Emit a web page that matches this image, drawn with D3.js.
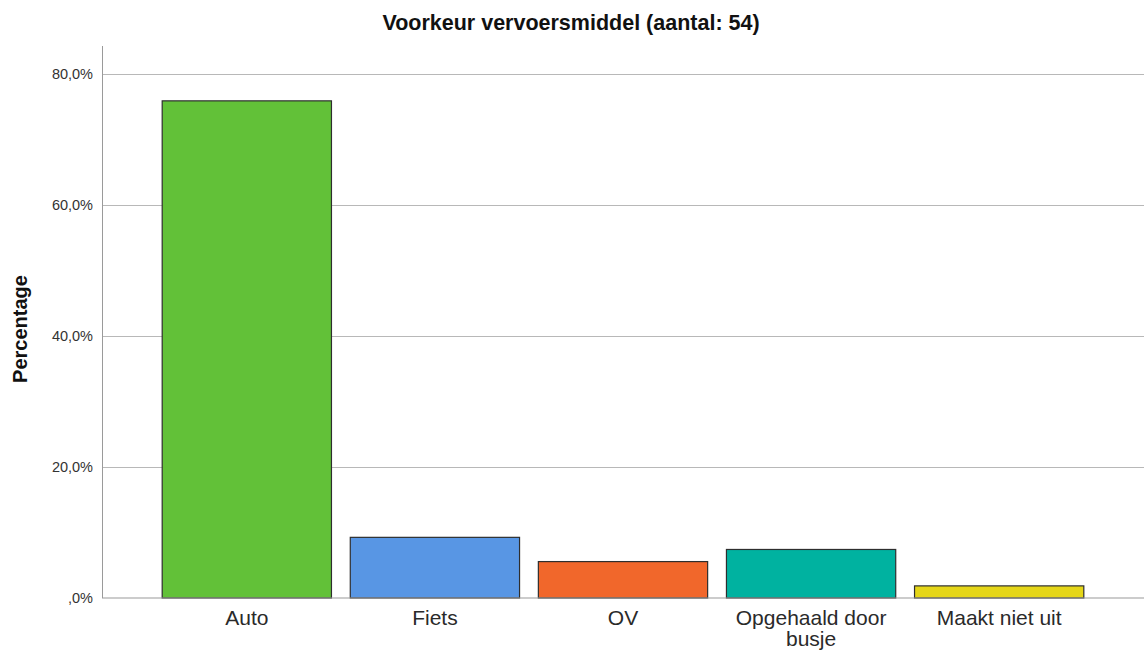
<!DOCTYPE html>
<html><head><meta charset="utf-8">
<script src="https://cdn.jsdelivr.net/npm/d3@7"></script>
<style>body{margin:0;background:#fff}svg{display:block}</style>
</head><body>
<svg id="c" width="1144" height="653"></svg>
<script>
const categories = ["Auto", "Fiets", "OV", "Opgehaald door busje", "Maakt niet uit"];
const percentages = [75.9, 9.26, 5.56, 7.41, 1.85];
const colors = ["#62c138", "#5896e4", "#f1672b", "#00b2a0", "#e5d618"];
const yTicks = [0, 20, 40, 60, 80];
const tickLabels = [",0%", "20,0%", "40,0%", "60,0%", "80,0%"];

(function () {
const svg = d3.select("#c");
const font = "Liberation Sans, Arial, sans-serif";
const mLeft = 102, mRight = 1144, mTop = 46, mBottom = 598;
const x = d3.scaleBand().domain(categories).range([mLeft, mRight]).paddingInner(0.1).paddingOuter(0.32);
const y = d3.scaleLinear().domain([0, 80]).range([mBottom, 74]);

// gridlines
svg.append("g").selectAll("line").data(yTicks.filter(d => d > 0)).join("line")
  .attr("x1", mLeft).attr("x2", mRight).attr("y1", d => y(d) + 0.5).attr("y2", d => y(d) + 0.5)
  .attr("stroke", "#b8b8b8").attr("stroke-width", 1);

// y axis
const yAxis = d3.axisLeft(y).tickValues(yTicks).tickSize(0).tickPadding(9)
  .tickFormat((d, i) => tickLabels[i]);
const gy = svg.append("g").attr("transform", `translate(${mLeft},0)`).call(yAxis);
gy.select(".domain").remove();
gy.selectAll("text").attr("font-family", font).attr("font-size", 14.5).attr("fill", "#333");
svg.append("line").attr("x1", mLeft + 0.5).attr("x2", mLeft + 0.5).attr("y1", mTop).attr("y2", mBottom)
  .attr("stroke", "#9a9a9a");

// bars
svg.append("g").selectAll("rect").data(categories).join("rect")
  .attr("x", d => x(d)).attr("width", x.bandwidth())
  .attr("y", (d, i) => y(percentages[i])).attr("height", (d, i) => mBottom - y(percentages[i]))
  .attr("fill", (d, i) => colors[i]).attr("stroke", "#2e2e2e").attr("stroke-width", 1.2);

// baseline
svg.append("line").attr("x1", mLeft).attr("x2", mRight).attr("y1", mBottom).attr("y2", mBottom)
  .attr("stroke", "#9a9a9a").attr("stroke-width", 1.2);

// x axis labels
const xAxis = d3.axisBottom(x).tickSize(0).tickPadding(12);
const gx = svg.append("g").attr("transform", `translate(0,${mBottom})`).call(xAxis);
gx.select(".domain").remove();
gx.selectAll("text").attr("font-family", font).attr("font-size", 21).attr("fill", "#2a2a2a")
  .each(function(d) {
    if (d === "Opgehaald door busje") {
      const t = d3.select(this); t.text(null);
      t.append("tspan").attr("x", 0).attr("dy", "0.71em").text("Opgehaald door");
      t.append("tspan").attr("x", 0).attr("dy", "1.0em").text("busje");
      t.attr("dy", null);
    }
  });

// title
svg.append("text").attr("x", 571).attr("y", 30).attr("text-anchor", "middle")
  .attr("font-family", font).attr("font-weight", "bold").attr("font-size", 21.5)
  .attr("fill", "#111").text("Voorkeur vervoersmiddel (aantal: 54)");

// y label
svg.append("text").attr("transform", "translate(27,329) rotate(-90)").attr("text-anchor", "middle")
  .attr("font-family", font).attr("font-weight", "bold").attr("font-size", 20)
  .attr("fill", "#111").text("Percentage");
})();
</script>
</body></html>
